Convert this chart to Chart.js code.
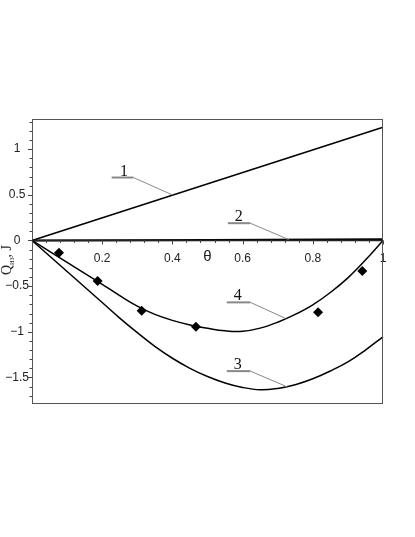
<!DOCTYPE html>
<html>
<head>
<meta charset="utf-8">
<script src="https://cdn.jsdelivr.net/npm/chart.js@4.4.0/dist/chart.umd.min.js"></script>
<style>html,body{margin:0;padding:0;background:#fff}</style>
</head>
<body>
<canvas id="c" width="415" height="537"></canvas>
<script>
// values
const thetaGrid = [0, 0.05, 0.1, 0.15, 0.2, 0.25, 0.3, 0.35, 0.4, 0.45, 0.5,
                   0.55, 0.6, 0.65, 0.7, 0.75, 0.8, 0.85, 0.9, 0.95, 1];
const curve3Q = [0, -0.17, -0.34, -0.51, -0.68, -0.85, -1.01, -1.16, -1.29, -1.40, -1.49,
                 -1.56, -1.61, -1.635, -1.62, -1.58, -1.515, -1.43, -1.33, -1.20, -1.055];
const curve4Q = [0, -0.12, -0.24, -0.36, -0.48, -0.605, -0.72, -0.81, -0.875, -0.925, -0.962,
                 -0.99, -0.995, -0.96, -0.895, -0.81, -0.705, -0.57, -0.41, -0.215, 0];
const line1Theta = [0, 1];
const line1Q = [0, 1.24];
const curve2Theta = [0, 0.5, 1];
const curve2Q = [0, 0.005, 0.012];
const expTheta = [0.077, 0.187, 0.3125, 0.467, 0.815, 0.941];
const expQ = [-0.134, -0.444, -0.77, -0.945, -0.787, -0.335];

const xTicks = [0.2, 0.4, 0.6, 0.8, 1];
const yTicks = [-1.5, -1, -0.5, 0, 0.5, 1];

// curve number labels: text spot, underline, leader end (data units)
const curveTags = [
    { text: '1', tx: 0.262, ty: 0.75, u0: 0.227, u1: 0.289, uy: 0.689, px: 0.401, py: 0.497 },
    { text: '2', tx: 0.589, ty: 0.26, u0: 0.558, u1: 0.622, uy: 0.189, px: 0.731, py: 0.01 },
    { text: '4', tx: 0.586, ty: -0.61, u0: 0.555, u1: 0.622, uy: -0.678, px: 0.722, py: -0.853 },
    { text: '3', tx: 0.586, ty: -1.365, u0: 0.555, u1: 0.622, uy: -1.431, px: 0.727, py: -1.603 }
];

const zip = (xs, ys) => xs.map((x, i) => ({ x: x, y: ys[i] }));
const fmt = v => (v < 0 ? '\u2212' + Math.abs(v) : String(v));

// frame, minor ticks, tags and axis titles
const decor = {
    id: 'decor',
    afterDraw(chart) {
        const ctx = chart.ctx;
        const a = chart.chartArea;
        const xs = chart.scales.x, ys = chart.scales.y;
        const X = v => xs.getPixelForValue(v);
        const Y = v => ys.getPixelForValue(v);
        ctx.save();

        // box
        ctx.strokeStyle = '#555';
        ctx.lineWidth = 1;
        ctx.strokeRect(a.left + 0.5, a.top + 0.5, a.right - a.left - 1, a.bottom - a.top);

        // horizontal axis through zero
        const y0 = Y(0);
        ctx.strokeStyle = '#222';
        ctx.lineWidth = 1.5;
        ctx.beginPath();
        ctx.moveTo(a.left, y0);
        ctx.lineTo(a.right, y0);
        ctx.stroke();

        // tick marks
        ctx.lineWidth = 1;
        ctx.strokeStyle = '#444';
        ctx.beginPath();
        for (let i = 1; i <= 25; i++) {
            const px = Math.round(X(i * 0.04)) + 0.5;
            const len = i % 5 === 0 ? 4 : 2.5;
            ctx.moveTo(px, y0);
            ctx.lineTo(px, y0 + len);
        }
        for (let i = -17; i <= 13; i++) {
            const py = Math.round(Y(i * 0.1)) + 0.5;
            const len = i % 5 === 0 ? 4 : 2.5;
            ctx.moveTo(a.left, py);
            ctx.lineTo(a.left - len, py);
        }
        ctx.stroke();

        // curve tags
        curveTags.forEach(t => {
            ctx.strokeStyle = '#888';
            ctx.lineWidth = 2;
            ctx.beginPath();
            ctx.moveTo(X(t.u0), Y(t.uy));
            ctx.lineTo(X(t.u1), Y(t.uy));
            ctx.stroke();
            ctx.lineWidth = 1;
            ctx.beginPath();
            ctx.moveTo(X(t.u1), Y(t.uy));
            ctx.lineTo(X(t.px), Y(t.py));
            ctx.stroke();
            ctx.fillStyle = '#111';
            ctx.font = '16px "Liberation Serif"';
            ctx.textAlign = 'center';
            ctx.textBaseline = 'middle';
            ctx.fillText(t.text, X(t.tx), Y(t.ty));
        });

        // theta title
        ctx.fillStyle = '#222';
        ctx.font = '15px "Liberation Sans"';
        ctx.textAlign = 'center';
        ctx.textBaseline = 'middle';
        ctx.fillText('\u03b8', X(0.5), y0 + 16);

        // vertical title
        ctx.translate(10.5, 260);
        ctx.rotate(-Math.PI / 2);
        ctx.textAlign = 'left';
        ctx.textBaseline = 'alphabetic';
        ctx.font = '14px "Liberation Serif"';
        const wQ = ctx.measureText('Q').width;
        ctx.font = '8px "Liberation Serif"';
        const wS = ctx.measureText('из').width;
        ctx.font = '14px "Liberation Serif"';
        const wJ = ctx.measureText(', J').width;
        let x0 = -(wQ + wS + wJ) / 2;
        ctx.fillText('Q', x0, 0);
        ctx.font = '8px "Liberation Serif"';
        ctx.fillText('из', x0 + wQ, 3);
        ctx.font = '14px "Liberation Serif"';
        ctx.fillText(', J', x0 + wQ + wS, 0);
        ctx.restore();
    }
};

const ctx = document.getElementById('c').getContext('2d');
new Chart(ctx, {
    type: 'line',
    data: {
        datasets: [
            { label: '1', data: zip(line1Theta, line1Q), borderColor: '#000', borderWidth: 1.5, pointRadius: 0 },
            { label: '2', data: zip(curve2Theta, curve2Q), borderColor: '#000', borderWidth: 2, pointRadius: 0 },
            { label: '3', data: zip(thetaGrid, curve3Q), borderColor: '#000', borderWidth: 1.5, pointRadius: 0,
              tension: 0.4 },
            { label: '4', data: zip(thetaGrid, curve4Q), borderColor: '#000', borderWidth: 1.5, pointRadius: 0,
              tension: 0.4 },
            { label: 'exp', data: zip(expTheta, expQ), showLine: false, pointStyle: 'rectRot',
              pointRadius: 5, backgroundColor: '#000', borderColor: '#000', borderWidth: 0 }
        ]
    },
    options: {
        responsive: false,
        animation: false,
        clip: false,
        plugins: { legend: { display: false }, tooltip: { enabled: false } },
        layout: { padding: { top: 119, right: 32, bottom: 134, left: 0 } },
        scales: {
            x: {
                type: 'linear',
                min: 0,
                max: 1,
                position: { y: 0 },
                grid: { display: false },
                border: { display: false },
                afterBuildTicks: s => { s.ticks = xTicks.map(v => ({ value: v })); },
                ticks: {
                    padding: 3,
                    autoSkip: false,
                    maxRotation: 0,
                    color: '#222',
                    font: { family: 'Liberation Sans', size: 12 },
                    callback: v => fmt(v)
                }
            },
            y: {
                type: 'linear',
                min: -1.78,
                max: 1.33,
                grid: { display: false },
                border: { display: false },
                afterFit: s => { s.width = 32; },
                afterBuildTicks: s => { s.ticks = yTicks.map(v => ({ value: v })); },
                ticks: {
                    padding: -5,
                    crossAlign: 'center',
                    color: '#222',
                    font: { family: 'Liberation Sans', size: 12 },
                    callback: v => fmt(v)
                }
            }
        }
    },
    plugins: [decor]
});
</script>
</body>
</html>
